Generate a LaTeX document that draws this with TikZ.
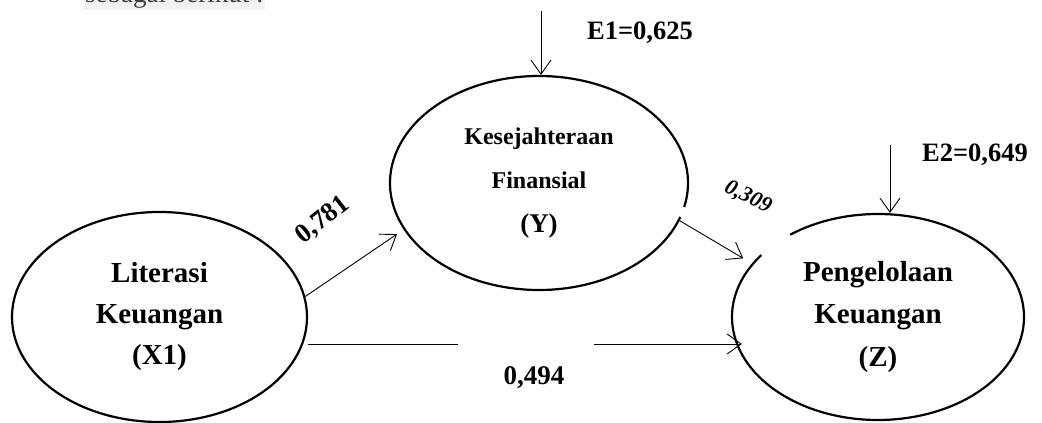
\documentclass[tikz,border=0pt]{standalone}
\usepackage{fontspec}
\setmainfont{Liberation Serif}
\usetikzlibrary{arrows.meta, positioning, shapes.geometric}

\begin{document}
\begin{tikzpicture}[
    x=1pt, y=1pt,
    latent/.style={ellipse, draw=black, line width=2.2pt, inner sep=0pt, align=center,
                   font=\bfseries\fontsize{29}{41}\selectfont},
    rim/.style={line width=2.2pt},
    link/.style={-{Straight Barb[length=14pt, width=20pt]}, line width=0.9pt},
    coef/.style={font=\bfseries\fontsize{27}{30}\selectfont}
]
\useasboundingbox (0,0) rectangle (1042,423);

% Text above the figure
\node[anchor=base west, fill=gray!10, text=black!75, inner xsep=1pt, inner ysep=1pt,
      font=\fontsize{27}{30}\selectfont] (intro) at (84,420) {sebagai berikut :};

% Variables
\node[latent, minimum width=295pt, minimum height=210pt] (x1) at (159.5,106) {Literasi\\Keuangan\\(X1)};
\node[latent, draw=none, minimum width=298pt, minimum height=214pt,
      font=\bfseries\fontsize{24}{44}\selectfont] (y) at (539,240)
    {Kesejahteraan\\Finansial\\{\fontsize{27}{44}\selectfont (Y)}};
\node[latent, draw=none, minimum width=292pt, minimum height=206pt,
      font=\bfseries\fontsize{29}{42.5}\selectfont] (z) at (878,106) {Pengelolaan\\Keuangan\\(Z)};

% Outlines of Y and Z, left open where the arrows meet them
\draw[rim] (y.center) ++(-13:149 and 107) arc[start angle=-13, end angle=341.5, x radius=149, y radius=107];
\draw[rim] (z.center) ++(143:146 and 103) arc[start angle=143, end angle=487, x radius=146, y radius=103];

% Error terms
\coordinate (e1) at (541,412);
\coordinate (e2) at (890,278);
\draw[link] (e1) -- (e1 |- y.north);
\draw[link] (e2) -- (e2 |- z.north);
\node[coef, font=\bfseries\fontsize{26.5}{28}\selectfont] (e1val) at (640,390) {E1=0,625};
\node[coef, font=\bfseries\fontsize{26.5}{28}\selectfont] (e2val) at (975,268) {E2=0,649};

% Paths
\draw[link, shorten >=8pt] (x1.8) -- (y.199);
\draw[link, shorten >=10pt] (y.-15) -- (z.157);
\coordinate (gl) at (458,79);
\coordinate (gr) at (594,79);
\draw[line width=0.9pt] (gl -| x1.east) -- (gl);
\draw[link, shorten >=-11pt] (gr) -- (gr -| z.west);

% Coefficients
\node[coef, rotate=38] (p1) at (323,203) {0,781};
\node[coef, font=\bfseries\itshape\fontsize{22}{24}\selectfont, rotate=-26] (p2) at (748,226) {0,309};
\node[coef] (p3) at (534,45) {0,494};

\end{tikzpicture}
\end{document}
